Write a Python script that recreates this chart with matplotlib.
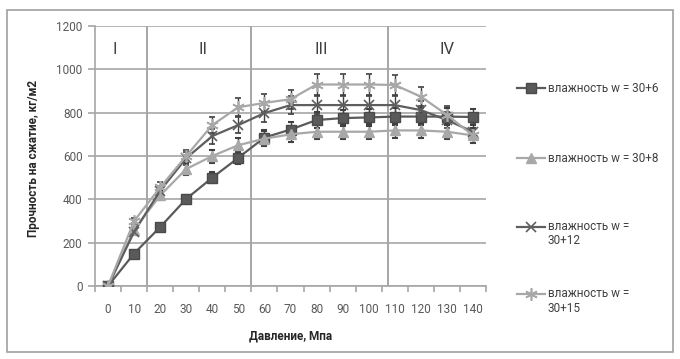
import numpy as np
import matplotlib
matplotlib.use("Agg")
import matplotlib.pyplot as plt
from matplotlib.lines import Line2D
from matplotlib.patches import Rectangle

plt.rcParams['font.family'] = ['Roboto', 'DejaVu Sans']

# pressure categories, MPa
pressure = [0, 10, 20, 30, 40, 50, 60, 70, 80, 90, 100, 110, 120, 130, 140]

# strength values for each moisture level
w6 = [0, 150, 272, 402, 500, 592, 685, 722, 766, 775, 778, 782, 782, 782, 780]
w8 = [0, 260, 418, 540, 600, 650, 680, 700, 712, 712, 712, 718, 718, 712, 695]
w12 = [0, 250, 440, 590, 692, 743, 798, 835, 835, 835, 835, 835, 812, 766, 712]
w15 = [0, 300, 455, 600, 743, 825, 845, 862, 930, 930, 930, 928, 874, 790, 695]

labels = ['влажность w = 30+6', 'влажность w = 30+8',
          'влажность w =\n30+12', 'влажность w =\n30+15']
zones = ['I', 'II', 'III', 'IV']
yticks = [0, 200, 400, 600, 800, 1000, 1200]

# error bars as 5% of value
err_pct = 0.05

fig = plt.figure(figsize=(6.8, 3.59), dpi=100)
ax = fig.add_axes([95/680, 1-286/359, (486-95)/680, (286-26)/359])

x = np.arange(len(pressure))

styles = [
    dict(color='#5a5a5a', marker='s', ms=7, mfc='#5a5a5a', mec='#4a4a4a'),
    dict(color='#a8a8a8', marker='^', ms=7, mfc='#a8a8a8', mec='#a8a8a8'),
    dict(color='#5e5e5e', marker='x', ms=7, mew=1.2),
    dict(color='#a8a8a8', marker=(6, 2, 0), ms=9, mew=1.2),
]

for vals, st in zip([w6, w8, w12, w15], styles):
    v = np.array(vals, dtype=float)
    ax.errorbar(x, v, yerr=v*err_pct, lw=1.6, elinewidth=1.0,
                ecolor='#404040', capsize=2.5, capthick=1.5, zorder=3, **st)

# horizontal gridlines
ax.set_ylim(0, 1200)
ax.set_yticks(yticks)
ax.yaxis.grid(True, color='#a6a6a6', lw=1.2)
ax.set_axisbelow(True)

ax.set_xlim(-0.5, len(pressure)-0.5)
ax.set_xticks(x)
ax.set_xticklabels([str(p) for p in pressure])
ax.set_xticks(np.arange(-0.5, len(pressure)), minor=True)
ax.tick_params(axis='x', which='major', length=0, pad=12, labelsize=8.5, labelcolor='#595959')
ax.tick_params(axis='x', which='minor', length=4, color='#a6a6a6', width=1.2)
ax.tick_params(axis='y', length=5, color='#a6a6a6', width=1.2, labelsize=8.5,
               labelcolor='#595959', pad=4)

for s in ['top', 'right']:
    ax.spines[s].set_visible(False)
for s in ['left', 'bottom']:
    ax.spines[s].set_color('#a6a6a6')
    ax.spines[s].set_linewidth(1.2)

# zone separators
for xb in [1.5, 5.5, 10.73]:
    ax.axvline(xb, color='#a6a6a6', lw=1.4, zorder=1)

for t, xz in zip(zones, [0.27, 3.65, 8.19, 13.0]):
    ax.text(xz, 1090, t, ha='center', va='center', fontsize=12, color='#404040')

fig.text(291/680, 1-336/359, 'Давление, Мпа', ha='center', va='center',
         fontsize=8.5, fontweight='bold', color='#262626')
fig.text(34/680, 1-158/359, 'Прочность на сжатие, кг/м2', ha='center', va='center',
         rotation=90, fontsize=8.5, fontweight='bold', color='#262626')

# legend drawn at the right
leg_y = [88, 158, 227, 294]
for lab, st, ly in zip(labels, styles, leg_y):
    yf = 1 - ly/359
    fig.add_artist(Line2D([517/680, 545/680], [yf, yf], color=st['color'], lw=1.6,
                          transform=fig.transFigure))
    mk = dict(st)
    mk.pop('color')
    fig.add_artist(Line2D([531/680], [yf], color=st['color'], lw=0,
                          transform=fig.transFigure, **mk))
    if '\n' in lab:
        fig.text(548/680, yf + 7/359, lab, ha='left', va='top', fontsize=8.5,
                 color='#404040', linespacing=1.15)
    else:
        fig.text(548/680, yf, lab, ha='left', va='center', fontsize=8.5, color='#404040')

fig.add_artist(Rectangle((7/680, 1-352/359), (673-7)/680, (352-10)/359,
                         transform=fig.transFigure, fill=False, ec='#a0a0a0', lw=1.2))

fig.savefig('out.png', dpi=100)
